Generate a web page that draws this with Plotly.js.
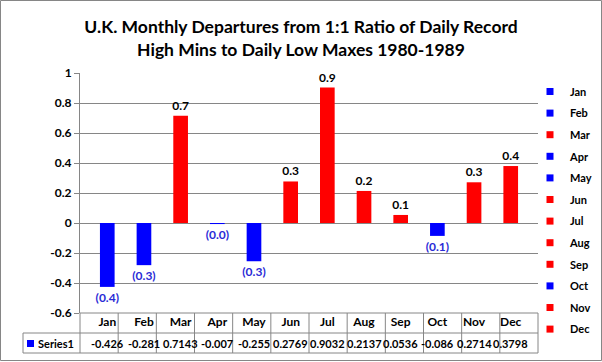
<!DOCTYPE html>
<html><head><meta charset="utf-8">
<script src="https://cdn.plot.ly/plotly-3.0.1.min.js"></script>
<style>html,body{margin:0;padding:0;background:#fff;}#chart{width:602px;height:362px;}</style>
</head><body><div id="chart"></div>
<script>
// ---- data ----
const months = ['Jan','Feb','Mar','Apr','May','Jun','Jul','Aug','Sep','Oct','Nov','Dec'];
const values = [-0.426, -0.281, 0.7143, -0.007, -0.255, 0.2769, 0.9032, 0.2137, 0.0536, -0.086, 0.2714, 0.3798];
const seriesName = 'Series1';
const yTicks = [-0.6, -0.4, -0.2, 0, 0.2, 0.4, 0.6, 0.8, 1];
const titleLines = ['U.K. Monthly Departures from 1:1 Ratio of Daily Record', 'High Mins to Daily Low Maxes 1980-1989'];

// ---- style ----
const FONT = 'Lato, "Liberation Sans", Arial, sans-serif';
const POS = '#ff0000', NEG = '#0000ff', NEG_TXT = '#2a2ad6';
const GRID = '#868686';
const WIDTH = 602, HEIGHT = 362;
const M = {l: 80, r: 64, t: 73, b: 49, autoexpand: false};
const PW = WIDTH - M.l - M.r, PH = HEIGHT - M.t - M.b;
const px = v => (v - M.l) / PW;            // pixel x -> paper x
const py = v => (HEIGHT - M.b - v) / PH;   // pixel y -> paper y

const fmtLabel = v => v < 0 ? '(' + Math.abs(v).toFixed(1) + ')' : v.toFixed(1);
const colorOf = v => v < 0 ? NEG : POS;

const bars = months.map((m, i) => ({
  type: 'bar', x: [m], y: [values[i]], name: m, legendgroup: m, showlegend: false,
  width: 0.4,
  marker: {color: colorOf(values[i])},
  text: [fmtLabel(values[i])], textposition: 'outside', constraintext: 'none', cliponaxis: false,
  textfont: {family: FONT, size: 12, weight: 700, color: values[i] < 0 ? NEG_TXT : '#000'},
  hoverinfo: 'none'
}));
// legend entries (one per month, small square key, no drawn points)
const keys = months.map((m, i) => ({
  type: 'scatter', mode: 'markers', x: [m], y: [null], name: m, legendgroup: m, showlegend: true,
  marker: {symbol: 'square', size: 7, color: colorOf(values[i])}, hoverinfo: 'none'
}));

const n = months.length;
const shapes = [];
const line = {color: GRID, width: 1};
const rowTop = py(313), rowMid = py(333), rowBot = py(353);
for (let k = 0; k <= n; k++) {
  shapes.push({type: 'line', xref: 'paper', yref: 'paper', x0: k / n, x1: k / n, y0: rowTop, y1: rowBot, line});
}
shapes.push({type: 'line', xref: 'paper', yref: 'paper', x0: 0, x1: 1, y0: rowTop, y1: rowTop, line});
shapes.push({type: 'line', xref: 'paper', yref: 'paper', x0: px(23), x1: 1, y0: rowMid, y1: rowMid, line});
shapes.push({type: 'line', xref: 'paper', yref: 'paper', x0: px(23), x1: 1, y0: rowBot, y1: rowBot, line});
shapes.push({type: 'line', xref: 'paper', yref: 'paper', x0: px(23), x1: px(23), y0: rowMid, y1: rowBot, line});
shapes.push({type: 'rect', xref: 'paper', yref: 'paper', x0: px(27), x1: px(34), y0: py(347), y1: py(340), line: {width: 0}, fillcolor: NEG});
shapes.push({type: 'rect', xref: 'paper', yref: 'paper', x0: px(0.5), x1: px(601.5), y0: py(360.5), y1: py(0.5), line: {color: GRID, width: 1}});

const annotations = months.map((m, i) => ({
  xref: 'x', yref: 'paper', x: m, y: (rowMid + rowBot) / 2, yanchor: 'middle', xanchor: 'center',
  text: String(values[i]), showarrow: false,
  font: {family: FONT, size: 11, weight: 700, color: '#000'}
}));
annotations.push({xref: 'paper', yref: 'paper', x: px(36), y: (rowMid + rowBot) / 2, xanchor: 'left', yanchor: 'middle',
  text: seriesName, showarrow: false, font: {family: FONT, size: 11, weight: 700, color: '#000'}});

const layout = {
  width: WIDTH, height: HEIGHT, margin: M,
  paper_bgcolor: '#fff', plot_bgcolor: '#fff',
  barmode: 'overlay',
  title: {text: titleLines.join('<br>'), x: 0.5, xref: 'container', xanchor: 'center',
          y: 1 - 33 / HEIGHT, yref: 'container', yanchor: 'top',
          font: {family: FONT, size: 17.5, weight: 700, color: '#000'}},
  xaxis: {type: 'category', categoryarray: months, categoryorder: 'array', showgrid: false, showline: false, zeroline: false,
          ticks: '', tickfont: {family: FONT, size: 12, weight: 700, color: '#000'}, fixedrange: true},
  yaxis: {range: [-0.6, 1], tickvals: yTicks, ticktext: yTicks.map(v => String(v)),
          showgrid: true, gridcolor: GRID, gridwidth: 1,
          zeroline: true, zerolinecolor: GRID, zerolinewidth: 1,
          showline: true, linecolor: GRID, linewidth: 1,
          ticks: 'outside', ticklen: 5, tickcolor: GRID,
          tickfont: {family: FONT, size: 12, weight: 700, color: '#000'}, fixedrange: true},
  legend: {x: px(530), xanchor: 'left', y: py(77), yanchor: 'top', traceorder: 'grouped',
           tracegroupgap: 2.6, maxheight: 320, font: {family: FONT, size: 11, weight: 700, color: '#000'},
           bgcolor: 'rgba(0,0,0,0)'},
  shapes, annotations,
  showlegend: true
};

Plotly.newPlot('chart', bars.concat(keys), layout, {displayModeBar: false, staticPlot: true});
</script>
</body></html>
